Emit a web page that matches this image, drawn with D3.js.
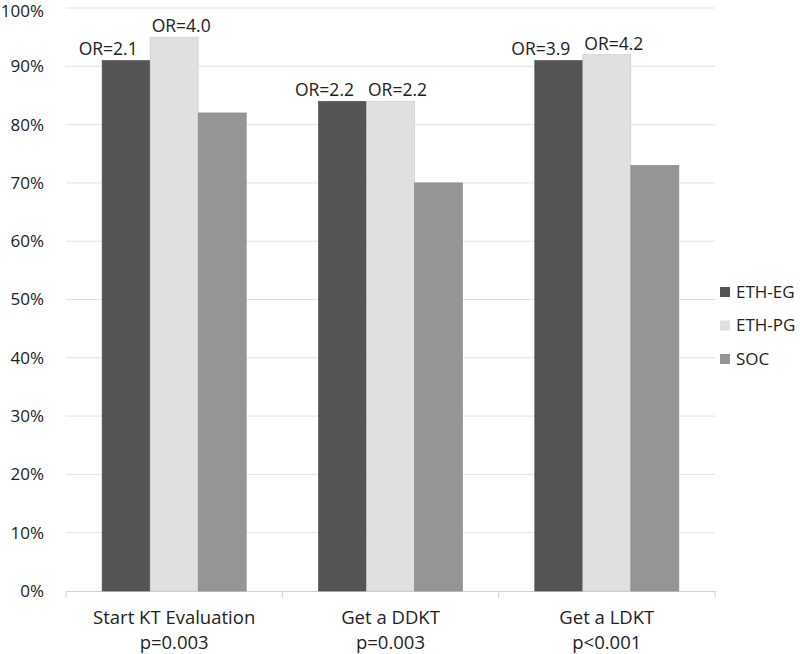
<!DOCTYPE html>
<html><head><meta charset="utf-8">
<script src="https://cdn.jsdelivr.net/npm/d3@7"></script>
<style>body{margin:0;background:#fff}text{font-family:"Open Sans",sans-serif;fill:#222}</style>
</head><body><svg id="c" width="800" height="654"></svg>
<script>
const categories = ["Start KT Evaluation", "Get a DDKT", "Get a LDKT"];
const pValues = ["p=0.003", "p=0.003", "p<0.001"];
const seriesNames = ["ETH-EG", "ETH-PG", "SOC"];
const ethEG = [91, 84, 91];
const ethPG = [95, 84, 92];
const soc = [82, 70, 73];
const orEG = ["OR=2.1", "OR=2.2", "OR=3.9"];
const orPG = ["OR=4.0", "OR=2.2", "OR=4.2"];
const yTicks = [0,10,20,30,40,50,60,70,80,90,100];
const colors = ["#555555", "#e0e0e0", "#959595"];

const svg = d3.select("#c");
const m = {l:66, r:85, t:8, b:63};
const W = 800, H = 654;
const x = d3.scaleBand().domain(categories).range([m.l, W - m.r]).paddingInner(0).paddingOuter(0);
const inner = d3.scaleBand().domain(seriesNames).range([x.bandwidth()*0.167, x.bandwidth()*0.833]);
const y = d3.scaleLinear().domain([0,100]).range([H - m.b, m.t]);

// gridlines
svg.append("g").selectAll("line").data(yTicks.filter(d=>d>0)).join("line")
  .attr("x1", m.l).attr("x2", W - m.r).attr("y1", d=>y(d)).attr("y2", d=>y(d))
  .attr("stroke", "#e2e2e2").attr("stroke-width", 1);

// y axis labels
const ya = svg.append("g").attr("transform", `translate(${m.l},0)`)
  .call(d3.axisLeft(y).tickValues(yTicks).tickFormat(d=>d+"%").tickSize(0).tickPadding(22));
ya.select(".domain").remove();
ya.selectAll("text").style("font-size","17px").style("font-family","'Open Sans',sans-serif").attr("fill","#222")
  .attr("dy", d => d === 100 ? "0.5em" : "0.32em");

// x axis
const xa = svg.append("g").attr("transform", `translate(0,${y(0)})`)
  .call(d3.axisBottom(x).tickSize(0).tickFormat(""));
xa.select(".domain").attr("stroke","#d0d0d0");
xa.selectAll(".tick").remove();
const bounds = [m.l, ...categories.map(c=>x(c)+x.bandwidth())];
xa.selectAll("line.sep").data(bounds).join("line").attr("class","sep")
  .attr("x1", d=>d).attr("x2", d=>d).attr("y1", 0).attr("y2", 7).attr("stroke","#d0d0d0");

const cl = svg.append("g");
categories.forEach((c,i)=>{
  const cx = x(c) + x.bandwidth()/2;
  cl.append("text").attr("x", cx).attr("y", 624).attr("text-anchor","middle").style("font-size","18.5px").text(c);
  cl.append("text").attr("x", cx).attr("y", 649).attr("text-anchor","middle").style("font-size","18.5px").text(pValues[i]);
});

const series = [ethEG, ethPG, soc];
series.forEach((vals, si)=>{
  svg.append("g").selectAll("rect").data(vals).join("rect")
    .attr("x", (d,i)=>x(categories[i]) + inner(seriesNames[si]))
    .attr("width", inner.bandwidth())
    .attr("y", d=>y(d))
    .attr("height", d=>y(0)-y(d))
    .attr("fill", colors[si])
    .attr("stroke", d3.color(colors[si]).darker(0.3))
    .attr("stroke-width", 0.6);
});

// OR labels
const orSets = [[ethEG, orEG, -18], [ethPG, orPG, 7]];
orSets.forEach(([vals, labs, dx], k)=>{
  svg.append("g").selectAll("text").data(labs).join("text")
    .attr("x", (d,i)=>x(categories[i]) + inner(seriesNames[k]) + inner.bandwidth()/2 + dx)
    .attr("y", (d,i)=>y(vals[i]) - 5)
    .attr("text-anchor","middle").style("font-size","17.5px").text(d=>d);
});

// legend
const lg = svg.append("g");
seriesNames.forEach((s,i)=>{
  const cy = 292 + i*33.5;
  lg.append("rect").attr("x", 720).attr("y", cy-5).attr("width",10).attr("height",10).attr("fill", colors[i]);
  lg.append("text").attr("x", 736).attr("y", cy).attr("dy","0.35em").style("font-size","17px").text(s);
});
</script></body></html>
